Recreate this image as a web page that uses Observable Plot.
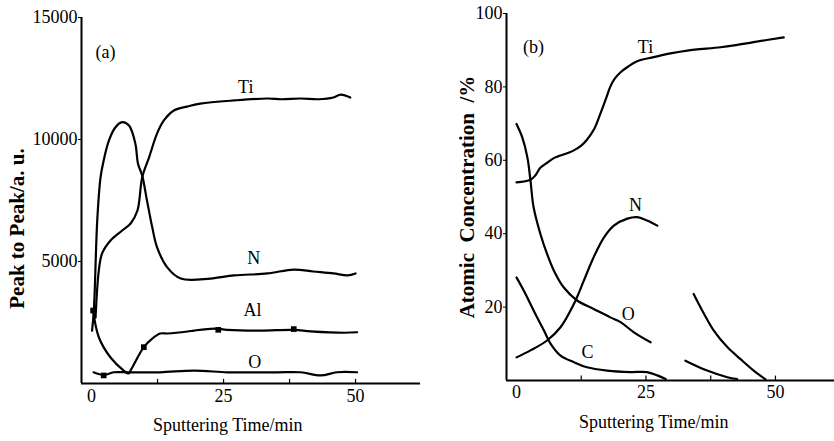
<!DOCTYPE html>
<html><head><meta charset="utf-8">
<script src="https://cdn.jsdelivr.net/npm/d3@7"></script>
<script src="https://cdn.jsdelivr.net/npm/@observablehq/plot@0.6"></script>
<style>
body{margin:0;background:#fff}
#wrap{display:flex;width:834px;height:441px;background:#fff}
</style>
</head><body><div id="wrap"></div>
<script>
// ---------- Panel (a): Peak to Peak intensity ----------
const aTiTime = [0.76, 1.38, 2.0, 3.6, 5.8, 7.4, 8.7, 9.6, 10.9, 12.4, 13.7, 15.6, 18.1, 20.6, 27, 33.3, 36, 39.6, 43, 45.8, 47.2, 49];
const aTiVal  = [2700, 4630, 5330, 5860, 6270, 6560, 7090, 8450, 9270, 10240, 10780, 11190, 11350, 11470, 11600, 11680, 11650, 11680, 11650, 11720, 11840, 11720];

const aNTime = [0.1, 0.44, 1.08, 1.7, 2.3, 3.3, 4.5, 5.8, 7.1, 8.3, 8.8, 9.6, 10.5, 11.5, 12.4, 14.3, 16.9, 22.5, 27, 33.3, 38.3, 42, 45.8, 48.5, 50];
const aNVal  = [2170, 2990, 6680, 8440, 9140, 9960, 10490, 10710, 10570, 9830, 9010, 8520, 7500, 6400, 5590, 4770, 4300, 4300, 4430, 4510, 4670, 4590, 4510, 4430, 4510];

const aAlTime = [0.3, 1.4, 3.6, 6.1, 7.0, 7.6, 9.9, 11.5, 13, 14.4, 18.2, 19.4, 23.2, 25.7, 32, 38.3, 41.5, 47.8, 50.3];
const aAlVal  = [2990, 1885, 1065, 530, 410, 615, 1490, 1840, 2050, 2050, 2130, 2170, 2250, 2200, 2170, 2200, 2140, 2080, 2100];

const aOTime = [0.4, 2.3, 4.2, 7.1, 13, 19.4, 25.7, 30.7, 35.2, 39.6, 43.4, 46.5, 50.3];
const aOVal  = [460, 350, 460, 460, 460, 530, 460, 460, 460, 460, 330, 460, 460];

const aMarkTime = [0.3, 9.9, 24, 38.3, 2.3];
const aMarkVal  = [2990, 1490, 2200, 2230, 330];

const aXTicks = [0, 25, 50];
const aXMinor = [12.5, 25, 37.5, 50];
const aYTicks = [5000, 10000, 15000];

const aLabels = ["(a)", "Ti", "N", "Al", "O"];
const aLabelX = [2.65, 29.2, 30.7, 30.5, 30.9];
const aLabelY = [13560, 12130, 5120, 2990, 860];

// ---------- Panel (b): Atomic concentration ----------
const bTiTime = [0, 2.7, 3.7, 4.6, 5.6, 7.2, 8.5, 10.8, 12.5, 13.6, 15, 16.2, 17.2, 18.1, 19, 20.1, 21.5, 23.3, 26.5, 30, 33, 39.4, 42, 45.8, 51.6];
const bTiVal  = [54, 54.7, 56, 58, 59, 60.6, 61.3, 62.5, 64, 65.6, 68.5, 72.7, 76.5, 80, 82.3, 84, 85.5, 87, 88.1, 89.2, 89.9, 90.8, 91.3, 92.2, 93.5];

const bOTime = [0, 1.1, 2.1, 2.7, 3.3, 4.6, 5.9, 7.2, 9.1, 11.7, 14.9, 18.1, 20.1, 22.6, 25.9];
const bOVal  = [69.9, 66.3, 60.8, 54.5, 47.2, 40.0, 34.5, 30.0, 25.4, 21.8, 19.5, 17.2, 15.9, 13.2, 10.4];
const bO2Time = [32.6, 36.8, 40.7, 42.6];
const bO2Val  = [5.4, 2.7, 0.9, 0.4];

const bNTime = [0, 2.7, 5.9, 8.5, 11.1, 13, 14.9, 16.9, 18.8, 21.4, 23.3, 25.2, 27.2];
const bNVal  = [6.3, 8.2, 10.9, 14.5, 20.9, 27.2, 33.6, 39.0, 42.2, 44.1, 44.5, 43.6, 42.2];
const bN2Time = [34.2, 36.2, 38.1, 40.7, 43.2, 45.8, 48.1];
const bN2Val  = [23.6, 18.2, 13.6, 9.1, 5.9, 2.7, 0.3];

const bCTime = [0, 1.4, 3.3, 5.3, 6.6, 8.5, 11.1, 13.6, 17.5, 22, 25.2, 27.2, 28.8];
const bCVal  = [28.1, 24.5, 19.1, 13.6, 10.0, 6.8, 5.0, 3.6, 2.7, 2.3, 2.3, 1.4, 0.4];

const bXTicks = [0, 25, 50];
const bXMinor = [12.5, 25, 37.5, 50];
const bYTicks = [20, 40, 60, 80, 100];

const bLabels = ["(b)", "Ti", "N", "O", "C"];
const bLabelX = [3.3, 24.9, 23, 21.6, 13.7];
const bLabelY = [90.7, 90.7, 47.7, 18, 7.6];

// ---------- helpers ----------
const zip = (ts, vs, name) => ts.map((t, i) => ({t, v: vs[i], s: name}));
const font = "'Liberation Serif', 'Times New Roman', serif";

const aSeries = [
  ...zip(aTiTime, aTiVal, "Ti"),
  ...zip(aNTime, aNVal, "N"),
  ...zip(aAlTime, aAlVal, "Al"),
  ...zip(aOTime, aOVal, "O")
];
const bSeries = [
  ...zip(bTiTime, bTiVal, "Ti"),
  ...zip(bOTime, bOVal, "O1"),
  ...zip(bO2Time, bO2Val, "O2"),
  ...zip(bNTime, bNVal, "N1"),
  ...zip(bN2Time, bN2Val, "N2"),
  ...zip(bCTime, bCVal, "C")
];
const aLab = aLabels.map((l, i) => ({l, x: aLabelX[i], y: aLabelY[i]}));
const bLab = bLabels.map((l, i) => ({l, x: bLabelX[i], y: bLabelY[i]}));
const aMarks = aMarkTime.map((t, i) => ({t, v: aMarkVal[i]}));

const ax = [-1.9, 62.3];
const bx = [-1.93, 61.4];

const plotA = Plot.plot({
  width: 420, height: 441,
  marginLeft: 81, marginRight: 0, marginTop: 17, marginBottom: 58,
  style: {fontFamily: font, fontSize: "18px", color: "black", background: "white", overflow: "visible"},
  x: {domain: ax, ticks: aXTicks, tickSize: 0, tickPadding: 6, label: null, tickFormat: d => String(d)},
  y: {domain: [0, 15000], ticks: aYTicks, tickSize: 3, tickPadding: 1, label: null, tickFormat: d => String(d)},
  marks: [
    Plot.ruleY([0], {x1: ax[0], x2: ax[1], stroke: "black", strokeWidth: 2.2}),
    Plot.ruleX([ax[0]], {y1: 0, y2: 15000, stroke: "black", strokeWidth: 2}),
    Plot.ruleX(aXMinor, {y1: 0, y2: 170, stroke: "black", strokeWidth: 1.2}),
    Plot.line(aSeries, {x: "t", y: "v", z: "s", stroke: "black", strokeWidth: 2.2, curve: "catmull-rom"}),
    Plot.dot(aMarks, {x: "t", y: "v", symbol: "square", r: 3.2, fill: "black"}),
    Plot.text(aLab, {x: "x", y: "y", text: "l", fontSize: 18, fill: "black"}),
    Plot.text(["Sputtering Time/min"], {x: 25.8, y: 0, dy: 42, fontSize: 18, fill: "black"}),
    Plot.text(["Peak to Peak/a. u."], {frameAnchor: "left", textAnchor: "middle", y: 6350, dx: -64, rotate: -90, fontSize: 21, fontWeight: "bold", fill: "black"})
  ]
});

const plotB = Plot.plot({
  width: 414, height: 441,
  marginLeft: 86, marginRight: 0, marginTop: 13, marginBottom: 61,
  style: {fontFamily: font, fontSize: "18px", color: "black", background: "white", overflow: "visible"},
  x: {domain: bx, ticks: bXTicks, tickSize: 0, tickPadding: 5, label: null, tickFormat: d => String(d)},
  y: {domain: [0, 100], ticks: bYTicks, tickSize: 3, tickPadding: 1, label: null, tickFormat: d => String(d)},
  marks: [
    Plot.ruleY([0], {x1: bx[0], x2: bx[1], stroke: "black", strokeWidth: 2.2}),
    Plot.ruleX([bx[0]], {y1: 0, y2: 100, stroke: "black", strokeWidth: 2}),
    Plot.ruleX(bXMinor, {y1: 0, y2: 1.2, stroke: "black", strokeWidth: 1.2}),
    Plot.line(bSeries, {x: "t", y: "v", z: "s", stroke: "black", strokeWidth: 2.2, curve: "catmull-rom"}),
    Plot.text(bLab, {x: "x", y: "y", text: "l", fontSize: 18, fill: "black"}),
    Plot.text(["Sputtering Time/min"], {x: 26.5, y: 0, dy: 42, fontSize: 18, fill: "black"}),
    Plot.text(["Atomic  Concentration  /%"], {frameAnchor: "left", textAnchor: "middle", y: 50, dx: -39, rotate: -90, fontSize: 21, fontWeight: "bold", fill: "black"})
  ]
});

document.getElementById("wrap").append(plotA, plotB);
</script></body></html>
